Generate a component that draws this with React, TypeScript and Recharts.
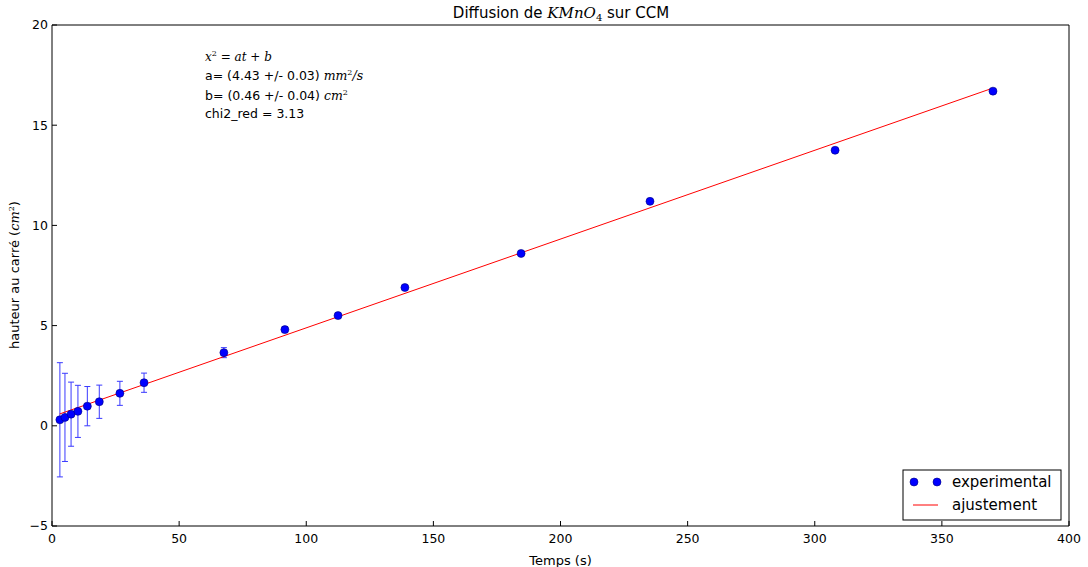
import { ComposedChart, Scatter, ErrorBar, XAxis, YAxis } from 'recharts';

// temps (s) et hauteur au carré (cm^2)
const times = [3.1, 5.1, 7.5, 10.2, 13.9, 18.6, 26.7, 36.2, 67.6, 91.6, 112.5, 138.8, 184.5, 235.2, 308, 370.1];
const heights = [0.3, 0.42, 0.58, 0.72, 0.98, 1.2, 1.62, 2.15, 3.65, 4.8, 5.5, 6.9, 8.6, 11.2, 13.75, 16.7];
const errors = [2.85, 2.2, 1.6, 1.3, 0.98, 0.83, 0.6, 0.48, 0.25, 0.15, 0.12, 0.1, 0.06, 0.05, 0.04, 0.03];

// extrémités de la droite d'ajustement
const fitTimes = [3, 370];
const fitHeights = [0.59, 16.85];

const xTicks = [0, 50, 100, 150, 200, 250, 300, 350, 400];
const yTicks = [-5, 0, 5, 10, 15, 20];

const points = times.map((t, i) => ({ t, h: heights[i], err: errors[i] }));
const fit = fitTimes.map((t, i) => ({ t, h: fitHeights[i] }));

const font = '"DejaVu Sans", sans-serif';
const mathFont = '"DejaVu Serif", serif';

const fmt = (v: number) => (v < 0 ? '\u2212' + Math.abs(v) : String(v));

const Dot = (props: any) => {
  const { cx, cy } = props;
  if (cx == null || cy == null) return null;
  return <circle cx={cx} cy={cy} r={4} fill="#0000ff" stroke="#000080" strokeWidth={0.6} />;
};

const App = () => {
  return (
    <div style={{ position: 'absolute', left: 0, top: 0, width: 1088, height: 567, background: '#fff', fontFamily: font }}>
      <ComposedChart width={1088} height={567} margin={{ top: 24, right: 18, left: 0, bottom: 0 }}>
        <XAxis
          xAxisId="b"
          dataKey="t"
          type="number"
          domain={[0, 400]}
          ticks={xTicks}
          height={41}
          tickSize={-5}
          tickMargin={13}
          stroke="#000"
          tick={{ fill: '#000', fontSize: 12.5, fontFamily: font }}
          allowDataOverflow
          label={{ value: 'Temps (s)', position: 'insideBottom', offset: 2, fill: '#000', fontSize: 13, fontFamily: font }}
        />
        <XAxis
          xAxisId="top"
          orientation="top"
          dataKey="t"
          type="number"
          domain={[0, 400]}
          ticks={xTicks}
          height={1}
          tickSize={-5}
          stroke="#000"
          tickFormatter={() => ''}
        />
        <YAxis
          yAxisId="l"
          type="number"
          domain={[-5, 20]}
          ticks={yTicks}
          width={52}
          tickSize={-5}
          tickMargin={9}
          stroke="#000"
          tickFormatter={fmt}
          tick={{ fill: '#000', fontSize: 12.5, fontFamily: font }}
          allowDataOverflow
        />
        <YAxis
          yAxisId="r"
          orientation="right"
          type="number"
          domain={[-5, 20]}
          ticks={yTicks}
          width={1}
          tickSize={-5}
          stroke="#000"
          tickFormatter={() => ''}
        />
        <Scatter
          xAxisId="b"
          yAxisId="l"
          data={fit}
          dataKey="h"
          line={{ stroke: '#ff0000', strokeWidth: 1 }}
          shape={() => null}
          isAnimationActive={false}
        />
        <Scatter xAxisId="b" yAxisId="l" data={points} dataKey="h" shape={Dot} isAnimationActive={false}>
          <ErrorBar dataKey="err" direction="y" width={3} stroke="#3a3aff" strokeWidth={1} isAnimationActive={false} />
        </Scatter>
        <text x={561} y={18} textAnchor="middle" fontSize={15} fontFamily={font} fill="#000">
          Diffusion de <tspan fontFamily={mathFont} fontStyle="italic">KMnO</tspan>
          <tspan fontFamily={mathFont} fontSize={10} dy={3}>4</tspan>
          <tspan dy={-3}> sur CCM</tspan>
        </text>
        <text x={19} y={275} textAnchor="middle" fontSize={13} fontFamily={font} fill="#000" transform="rotate(-90 19 275)">
          hauteur au carré (<tspan fontFamily={mathFont} fontStyle="italic">cm</tspan>
          <tspan fontFamily={mathFont} fontSize={8} dy={-5}>2</tspan>
          <tspan dy={5}>)</tspan>
        </text>
        <g fontSize={12.5} fontFamily={font} fill="#000">
          <text x={205} y={61} fontFamily={mathFont} fontStyle="italic" fontSize={12}>
            x<tspan fontSize={8} dy={-5} fontStyle="normal">2</tspan>
            <tspan dy={5} fontStyle="normal"> = </tspan>at<tspan fontStyle="normal"> + </tspan>b
          </text>
          <text x={205} y={80}>
            a= (4.43 +/- 0.03) <tspan fontFamily={mathFont} fontStyle="italic">mm</tspan>
            <tspan fontFamily={mathFont} fontSize={8} dy={-5}>2</tspan>
            <tspan fontFamily={mathFont} fontStyle="italic" dy={5}>/s</tspan>
          </text>
          <text x={205} y={100}>
            b= (0.46 +/- 0.04) <tspan fontFamily={mathFont} fontStyle="italic">cm</tspan>
            <tspan fontFamily={mathFont} fontSize={8} dy={-5}>2</tspan>
          </text>
          <text x={205} y={118}>chi2_red = 3.13</text>
        </g>
        <g>
          <rect x={903} y={470} width={158} height={50} fill="#fff" stroke="#000" strokeWidth={1} />
          <circle cx={914} cy={482} r={4} fill="#0000ff" stroke="#000080" strokeWidth={0.6} />
          <circle cx={937} cy={482} r={4} fill="#0000ff" stroke="#000080" strokeWidth={0.6} />
          <text x={952} y={487} fontSize={15} fontFamily={font} fill="#000">experimental</text>
          <line x1={913} x2={938} y1={505} y2={505} stroke="#ff0000" strokeWidth={1} />
          <text x={952} y={510} fontSize={15} fontFamily={font} fill="#000">ajustement</text>
        </g>
      </ComposedChart>
    </div>
  );
};

export default App;
